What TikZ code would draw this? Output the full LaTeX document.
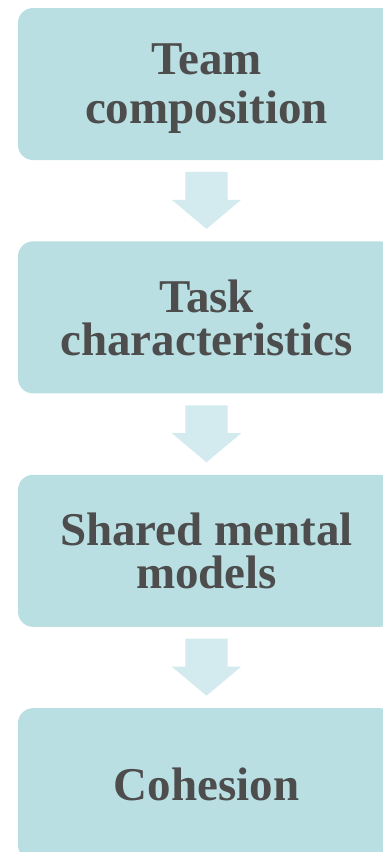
\documentclass[tikz,border=0pt]{standalone}
\usepackage{fontspec}
\setmainfont{Liberation Serif}
\usetikzlibrary{shapes,positioning,arrows,calc}

\definecolor{boxfill}{HTML}{B9DFE3}
\definecolor{arrowfill}{HTML}{D3EAEE}
\definecolor{textgray}{HTML}{4D4D4D}

\begin{document}
\begin{tikzpicture}[
  stage/.style={rectangle, rounded corners=15pt, fill=boxfill, minimum width=377pt, minimum height=152pt,
    align=center, text=textgray, font=\fontsize{47}{43}\selectfont\bfseries, inner sep=0pt, text depth=0pt},
  downarrow/.style={single arrow, fill=arrowfill, rotate=-90, inner xsep=0pt, inner ysep=21pt,
    single arrow head extend=13.5pt, single arrow tip angle=100, minimum height=57pt, anchor=tail},
  node distance=81pt]
\useasboundingbox (0,0) rectangle (383pt,-852pt);
\clip (0,0) rectangle (383pt,-852pt);

% stages
\node[stage] (team) at (206.5pt,-84pt) {Team\\[6pt]composition};
\node[stage, below=of team] (task) {Task\\characteristics};
\node[stage, below=of task] (smm) {Shared mental\\models};
\node[stage, below=of smm] (cohesion) {Cohesion};

% arrows between stages
\node[downarrow] (a1) at ($(team.south)+(0,-11.5pt)$) {};
\node[downarrow] (a2) at ($(task.south)+(0,-11.5pt)$) {};
\node[downarrow] (a3) at ($(smm.south)+(0,-11.5pt)$) {};
\end{tikzpicture}
\end{document}
